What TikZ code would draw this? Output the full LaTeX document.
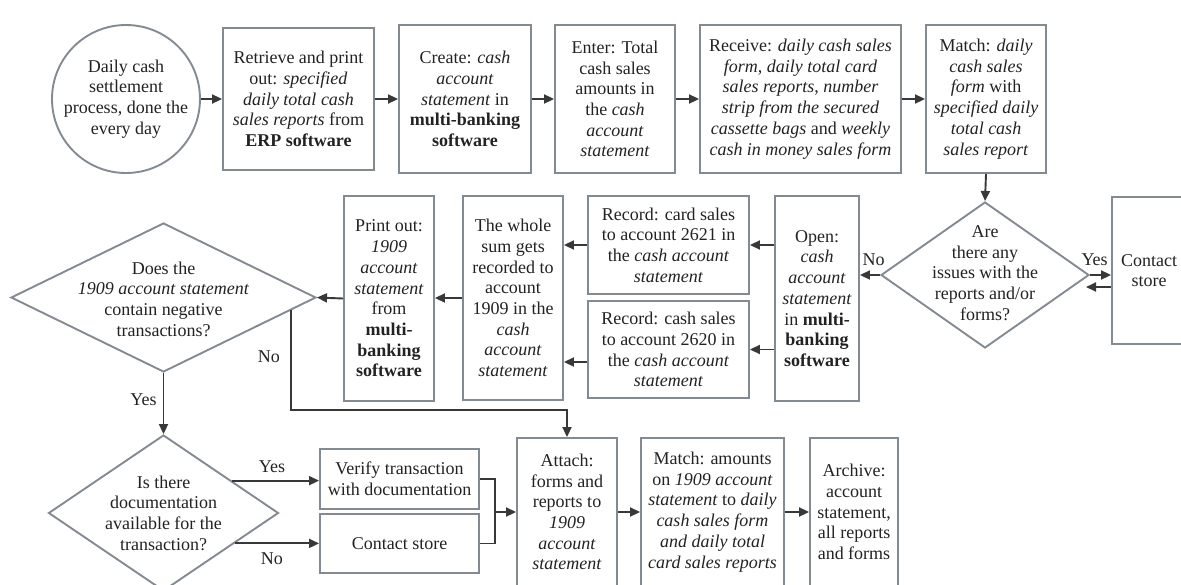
\documentclass[tikz,border=0pt]{standalone}
\usepackage{fontspec}
\setmainfont{Liberation Serif}
\usetikzlibrary{shapes.geometric, arrows.meta, calc}

\definecolor{edgegray}{HTML}{838A91}
\definecolor{flowdark}{HTML}{383838}
\definecolor{inkgray}{HTML}{222222}

\begin{document}
\begin{tikzpicture}[x = 1pt, y = -1pt,
	every node/.style = {font = \fontsize{18}{20.7}\selectfont, text = inkgray},
	stepbox/.style = {draw = edgegray, line width = 1.9pt, align = center, inner sep = 0pt},
	decision/.style = {diamond, draw = edgegray, line width = 1.9pt, inner sep = 0pt},
	dtext/.style = {align = center, inner sep = 0pt},
	flow/.style = {draw = flowdark, line width = 1.9pt, -{Triangle[length = 10pt, width = 9pt]}},
	lbl/.style = {inner sep = 2pt}]
	\useasboundingbox (0,0) rectangle (1181,584);

	% top row
	\node[circle, draw = edgegray, line width = 1.9pt, minimum size = 148pt, align = center, inner sep = 0pt]
		(start) at (126,99) {Daily cash\\settlement\\process, done the\\every day};
	\node[stepbox, minimum width = 151pt, minimum height = 142pt] (retrieve) at (298.5,99)
		{Retrieve and print\\out: \textit{specified}\\\textit{daily total cash}\\\textit{sales reports} from\\\textbf{ERP software}};
	\node[stepbox, minimum width = 132pt, minimum height = 148pt] (create) at (465,99)
		{Create: \textit{cash}\\\textit{account}\\\textit{statement} in\\\textbf{multi-banking}\\\textbf{software}};
	\node[stepbox, minimum width = 120pt, minimum height = 148pt] (enter) at (615,99)
		{Enter: Total\\cash sales\\amounts in\\the \textit{cash}\\\textit{account}\\\textit{statement}};
	\node[stepbox, minimum width = 201pt, minimum height = 148pt] (receive) at (800.5,99)
		{Receive: \textit{daily cash sales}\\\textit{form}, \textit{daily total card}\\\textit{sales reports}, \textit{number}\\\textit{strip from the secured}\\\textit{cassette bags} and \textit{weekly}\\\textit{cash in money sales form}};
	\node[stepbox, minimum width = 120pt, minimum height = 148pt] (matchA) at (986,99)
		{Match: \textit{daily}\\\textit{cash sales}\\\textit{form} with\\\textit{specified daily}\\\textit{total cash}\\\textit{sales report}};

	% middle row
	\node[decision, minimum width = 208pt, minimum height = 146pt] (issues) at (985,275) {};
	\node[dtext] (issuesTxt) at (985,273) {Are\\there any\\issues with the\\reports and/or\\forms?};
	\node[stepbox, minimum width = 74pt, minimum height = 147pt] (contactA) at (1149,270.5) {Contact\\store};
	\node[stepbox, minimum width = 84pt, minimum height = 205pt] (open) at (817,298.5)
		{Open:\\\textit{cash}\\\textit{account}\\\textit{statement}\\in \textbf{multi-}\\\textbf{banking}\\\textbf{software}};
	\node[stepbox, minimum width = 161pt, minimum height = 98pt] (recCard) at (668.5,245)
		{Record: card sales\\to account 2621 in\\the \textit{cash account}\\\textit{statement}};
	\node[stepbox, minimum width = 161pt, minimum height = 97pt] (recCash) at (668.5,349.5)
		{Record: cash sales\\to account 2620 in\\the \textit{cash account}\\\textit{statement}};
	\node[stepbox, minimum width = 100pt, minimum height = 204pt] (wholesum) at (513,298)
		{The whole\\sum gets\\recorded to\\account\\1909 in the\\\textit{cash}\\\textit{account}\\\textit{statement}};
	\node[stepbox, minimum width = 90pt, minimum height = 205pt] (printout) at (389,298.5)
		{Print out:\\\textit{1909}\\\textit{account}\\\textit{statement}\\from\\\textbf{multi-}\\\textbf{banking}\\\textbf{software}};
	\node[decision, minimum width = 305pt, minimum height = 149pt] (neg) at (163.5,297.5) {};
	\node[dtext] (negTxt) at (163.5,299) {Does the\\\textit{1909 account statement}\\contain negative\\transactions?};

	% bottom row
	\node[decision, minimum width = 230pt, minimum height = 156pt] (docu) at (163.5,513) {};
	\node[dtext] (docuTxt) at (163.5,513) {Is there\\documentation\\available for the\\transaction?};
	\node[stepbox, minimum width = 159pt, minimum height = 60pt] (verify) at (399.5,479)
		{Verify transaction\\with documentation};
	\node[stepbox, minimum width = 159pt, minimum height = 59pt] (contactB) at (399.5,543.5) {Contact store};
	\node[stepbox, minimum width = 100pt, minimum height = 148pt] (attach) at (567,512)
		{Attach:\\forms and\\reports to\\\textit{1909}\\\textit{account}\\\textit{statement}};
	\node[stepbox, minimum width = 143pt, minimum height = 148pt] (matchB) at (712.5,512)
		{Match: amounts\\on \textit{1909 account}\\\textit{statement} to \textit{daily}\\\textit{cash sales form}\\\textit{and daily total}\\\textit{card sales reports}};
	\node[stepbox, minimum width = 88pt, minimum height = 148pt] (archive) at (854,512)
		{Archive:\\account\\statement,\\all reports\\and forms};

	\coordinate (backTip) at (1086,287);
	\coordinate (joinPt) at (495,512);
	\coordinate (negNo) at ($(neg.east)!0.17!(neg.south)$);
	\coordinate (docYes) at ($(docu.east)!0.41!(docu.north)$);
	\coordinate (docNo) at ($(docu.east)!0.385!(docu.south)$);

	% connectors
	\draw[flow] (start) -- (retrieve);
	\draw[flow] (retrieve) -- (create);
	\draw[flow] (create) -- (enter);
	\draw[flow] (enter) -- (receive);
	\draw[flow] (receive) -- (matchA);
	\draw[flow] (matchA.south) -- (issues.north);
	\draw[flow] (issues.west) -- node[lbl, above = 6pt, pos = 0.32]{No} (issues.west -| open.east);
	\draw[flow] (issues.east) -- node[lbl, above = 6pt, pos = 0.22]{Yes} (issues.east -| contactA.west);
	\draw[flow] (backTip -| contactA.west) -- (backTip);
	\draw[flow] (open.west |- recCard) -- (recCard.east);
	\draw[flow] (open.west |- recCash) -- (recCash.east);
	\draw[flow] (recCard.west) -- (recCard.west -| wholesum.east);
	\draw[flow] ([yshift = -12.5pt]recCash.west) -- ([yshift = -12.5pt]recCash.west -| wholesum.east);
	\draw[flow] (wholesum.west) -- (wholesum.west -| printout.east);
	\draw[flow] (printout.west) -- (neg.east);
	\draw[flow] (neg.south) -- node[lbl, left = 4pt, pos = 0.43]{Yes} (docu.north);
	\draw[flow] (negNo) |- node[lbl, left = 8pt, pos = 0.23]{No} ([yshift = 27pt]attach.north) -- (attach.north);
	\draw[flow] (docYes) -- node[lbl, above = 5pt, pos = 0.46]{Yes} (docYes -| verify.west);
	\draw[flow] (docNo) -- node[lbl, below = 6pt, pos = 0.44]{No} (docNo -| contactB.west);
	\draw[flow, -] (verify.east) -| (joinPt) |- (contactB.east);
	\draw[flow] (joinPt) -- (joinPt -| attach.west);
	\draw[flow] (attach.east) -- (matchB.west);
	\draw[flow] (matchB.east) -- (archive.west);
\end{tikzpicture}
\end{document}
